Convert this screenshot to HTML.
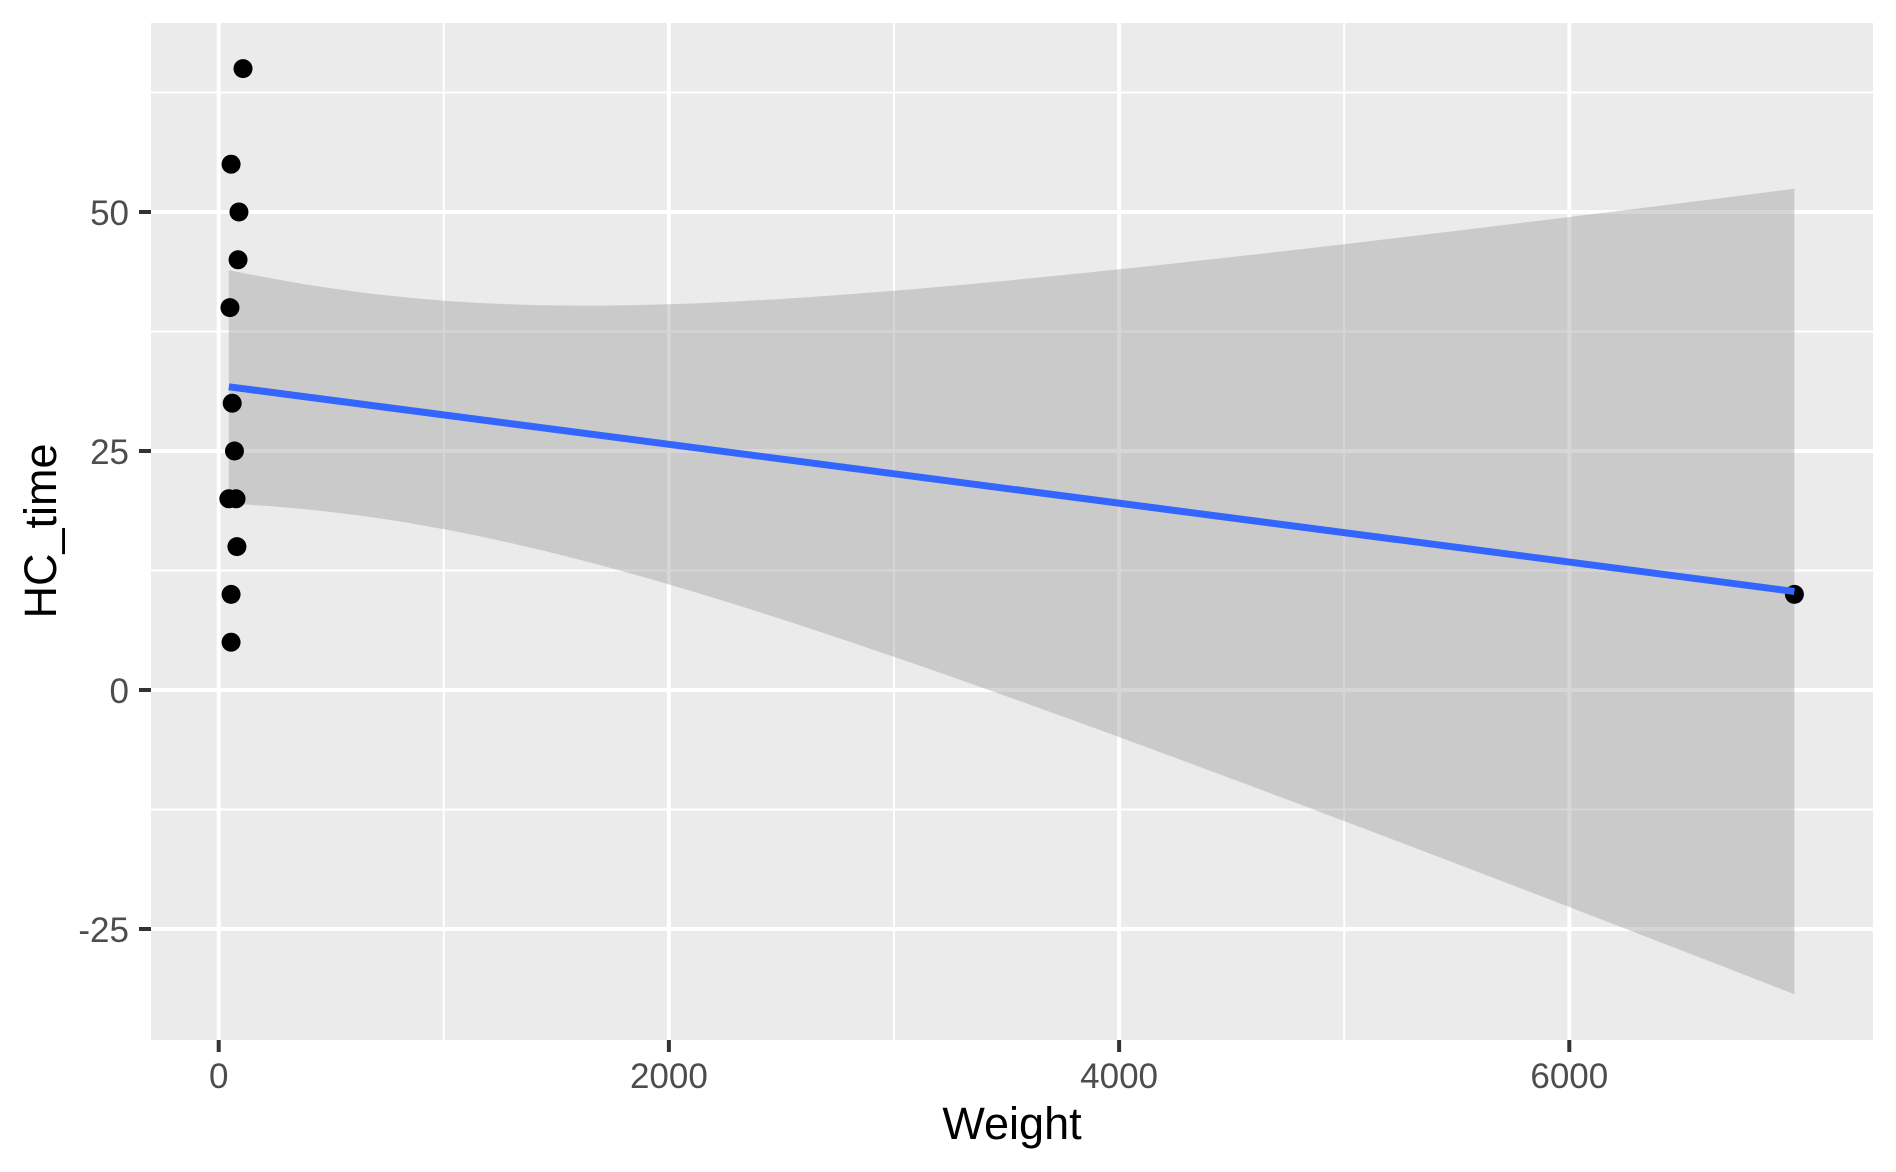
<!DOCTYPE html>
<html><head><meta charset="utf-8"><style>
html,body{margin:0;padding:0;background:#fff;}
svg{display:block;font-family:"Liberation Sans",Arial,sans-serif;}
</style></head><body>
<svg id="chart" width="1896" height="1172" viewBox="0 0 1896 1172">
<rect x="151" y="23" width="1722" height="1017" fill="#ebebeb"/>
<g id="grid"></g>
<g id="band"></g>
<g id="pts"></g>
<g id="fit"></g>
<g id="axes"></g>
<text x="1012" y="1139" font-size="45" text-anchor="middle" fill="#000">Weight</text>
<text x="0" y="0" font-size="45" text-anchor="middle" fill="#000" transform="translate(56,531) rotate(-90)">HC_time</text>
</svg>
<script>
const weights = [108, 55, 90, 86, 50, 60, 70, 45, 77, 81, 55, 55, 7000];
const hcTimes = [65, 55, 50, 45, 40, 30, 25, 20, 20, 15, 10, 5, 10];
const xTicks = [0, 2000, 4000, 6000];
const xMinor = [1000, 3000, 5000];
const yTicks = [-25, 0, 25, 50];
const yMinor = [-12.5, 12.5, 37.5, 62.5];

const NS = "http://www.w3.org/2000/svg";
const X0 = 218.7, XS = 0.2251;
const Y0 = 690, YS = 9.56;
const sx = v => X0 + v * XS;
const sy = v => Y0 - v * YS;
const L = 151, R = 1873, T = 23, B = 1040;
function mk(tag, attrs, parent){const e=document.createElementNS(NS,tag);for(const k in attrs)e.setAttribute(k,attrs[k]);parent.appendChild(e);return e;}
const grid=document.getElementById('grid'), axes=document.getElementById('axes');
for(const v of xMinor){const e=mk('line',{x1:sx(v),x2:sx(v),y1:T,y2:B,stroke:'#fff','stroke-width':2},grid);

}
for(const v of yMinor){const e=mk('line',{x1:L,x2:R,y1:sy(v),y2:sy(v),stroke:'#fff','stroke-width':2},grid);

}
for(const v of xTicks){const e=mk('line',{x1:sx(v),x2:sx(v),y1:T,y2:B,stroke:'#fff','stroke-width':4},grid);


const t=mk('line',{x1:sx(v),x2:sx(v),y1:B,y2:B+12,stroke:'#333','stroke-width':4},axes);


const l=mk('text',{x:sx(v),y:1088,'font-size':35,'text-anchor':'middle',fill:'#4d4d4d'},axes);l.textContent=v;

}
for(const v of yTicks){const e=mk('line',{x1:L,x2:R,y1:sy(v),y2:sy(v),stroke:'#fff','stroke-width':4},grid);


const t=mk('line',{x1:139,x2:L,y1:sy(v),y2:sy(v),stroke:'#333','stroke-width':4},axes);


const l=mk('text',{x:129,y:sy(v)+13,'font-size':35,'text-anchor':'end',fill:'#4d4d4d'},axes);l.textContent=v;

}
const n=weights.length;
const mx=weights.reduce((a,b)=>a+b)/n, my=hcTimes.reduce((a,b)=>a+b)/n;
let sxx=0,sxy=0;for(let i=0;i<n;i++){sxx+=(weights[i]-mx)**2;sxy+=(weights[i]-mx)*(hcTimes[i]-my);}
const b1=sxy/sxx, b0=my-b1*mx;
let sse=0;for(let i=0;i<n;i++){sse+=(hcTimes[i]-b0-b1*weights[i])**2;}
const s=Math.sqrt(sse/(n-2)), tq=2.201;
const xmin=Math.min(...weights), xmax=Math.max(...weights);
const up=[],lo=[];
for(let k=0;k<=80;k++){const x=xmin+(xmax-xmin)*k/80;const f=b0+b1*x;const se=s*Math.sqrt(1/n+(x-mx)**2/sxx);
up.push(sx(x).toFixed(1)+','+sy(f+tq*se).toFixed(1));lo.unshift(sx(x).toFixed(1)+','+sy(f-tq*se).toFixed(1));}
const band=mk('polygon',{points:up.concat(lo).join(' '),fill:'#999','fill-opacity':0.4},document.getElementById('band'));


for(let i=0;i<n;i++){const c=mk('circle',{cx:sx(weights[i]),cy:sy(hcTimes[i]),r:9.5,fill:'#000'},document.getElementById('pts'));

}
const fl=mk('line',{x1:sx(xmin),y1:sy(b0+b1*xmin),x2:sx(xmax),y2:sy(b0+b1*xmax),stroke:'#3366ff','stroke-width':7},document.getElementById('fit'));


</script>
</body></html>
